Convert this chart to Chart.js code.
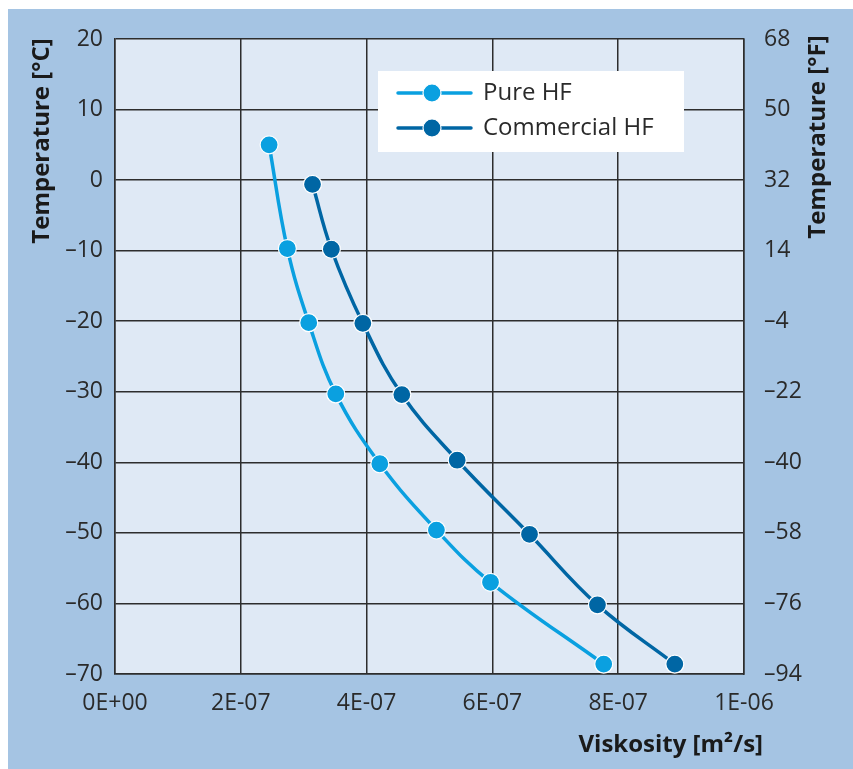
<!DOCTYPE html>
<html>
<head>
<meta charset="utf-8">
<script src="https://cdn.jsdelivr.net/npm/chart.js@4/dist/chart.umd.min.js"></script>
<style>
html,body{margin:0;padding:0;background:#fff;}
#wrap{position:relative;width:853px;height:769px;}
</style>
</head>
<body>
<div id="wrap"><canvas id="c" width="853" height="769"></canvas></div>
<script>
const seriesNames = ["Pure HF", "Commercial HF"];
const pureX = [2.45e-7, 2.74e-7, 3.08e-7, 3.51e-7, 4.21e-7, 5.11e-7, 5.97e-7, 7.77e-7];
const pureY = [5, -9.7, -20.2, -30.3, -40.2, -49.6, -57, -68.6];
const commX = [3.14e-7, 3.44e-7, 3.94e-7, 4.56e-7, 5.44e-7, 6.59e-7, 7.67e-7, 8.9e-7];
const commY = [-0.6, -9.8, -20.3, -30.4, -39.7, -50.2, -60.2, -68.6];
const xTicks = [0, 2e-7, 4e-7, 6e-7, 8e-7, 1e-6];
const xTickLabels = ["0E+00", "2E-07", "4E-07", "6E-07", "8E-07", "1E-06"];
const cTicks = [20, 10, 0, -10, -20, -30, -40, -50, -60, -70];
const fTicks = [68, 50, 32, 14, -4, -22, -40, -58, -76, -94];

const colors = ["#0aa0e0", "#0066a4"];
const fmt = v => (v < 0 ? "\u2013" + Math.abs(v) : String(v));

const bgPlugin = {
  id: "bg",
  beforeDraw(chart) {
    const ctx = chart.ctx, a = chart.chartArea;
    ctx.save();
    ctx.fillStyle = "#ffffff";
    ctx.fillRect(0, 0, chart.width, chart.height);
    ctx.fillStyle = "#a5c4e3";
    ctx.fillRect(8, 9, chart.width - 8, chart.height - 9);
    ctx.fillStyle = "#dfe9f5";
    ctx.fillRect(a.left, a.top, a.right - a.left, a.bottom - a.top);
    ctx.restore();
  },
  afterDraw(chart) {
    const ctx = chart.ctx;
    ctx.save();
    ctx.fillStyle = "#1a1a1a";
    ctx.font = "bold 24px 'Open Sans'";
    ctx.textBaseline = "middle";
    ctx.textAlign = "right";
    ctx.fillText("Viskosity [m\u00b2/s]", 763, 745);
    ctx.textAlign = "center";
    ctx.save();
    ctx.translate(42, 141);
    ctx.rotate(-Math.PI / 2);
    ctx.fillText("Temperature [\u00b0C]", 0, 0);
    ctx.restore();
    ctx.save();
    ctx.translate(818, 137);
    ctx.rotate(-Math.PI / 2);
    ctx.fillText("Temperature [\u00b0F]", 0, 0);
    ctx.restore();
    // legend
    ctx.fillStyle = "#ffffff";
    ctx.fillRect(378, 71, 306, 81);
    chart.data.datasets.forEach((ds, i) => {
      const y = 93 + i * 35;
      ctx.strokeStyle = ds.borderColor;
      ctx.lineWidth = 3.5;
      ctx.lineCap = "round";
      ctx.beginPath();
      ctx.moveTo(398, y);
      ctx.lineTo(471, y);
      ctx.stroke();
      ctx.beginPath();
      ctx.arc(432, y, 9, 0, Math.PI * 2);
      ctx.fillStyle = ds.backgroundColor;
      ctx.fill();
      ctx.lineWidth = 1.2;
      ctx.strokeStyle = "#ffffff";
      ctx.stroke();
      ctx.fillStyle = "#2a2a2a";
      ctx.font = "24px 'Open Sans'";
      ctx.textAlign = "left";
      ctx.fillText(ds.label, 483, y);
    });
    ctx.restore();
  }
};

const mk = (xs, ys) => xs.map((x, i) => ({ x: x, y: ys[i] }));
const tickFont = { family: "'Open Sans'", size: 23 };

new Chart(document.getElementById("c"), {
  type: "scatter",
  data: {
    datasets: [
      { label: seriesNames[0], data: mk(pureX, pureY), showLine: true, tension: 0.4,
        borderColor: colors[0], backgroundColor: colors[0], borderWidth: 3.5,
        pointRadius: 9, pointBorderColor: "#ffffff", pointBorderWidth: 1.2, pointHoverRadius: 9 },
      { label: seriesNames[1], data: mk(commX, commY), showLine: true, tension: 0.4,
        borderColor: colors[1], backgroundColor: colors[1], borderWidth: 3.5,
        pointRadius: 9, pointBorderColor: "#ffffff", pointBorderWidth: 1.2, pointHoverRadius: 9 }
    ]
  },
  options: {
    responsive: false,
    animation: false,
    devicePixelRatio: 1,
    layout: { padding: { top: 39, left: 0, right: 0, bottom: 0 } },
    plugins: { legend: { display: false }, tooltip: { enabled: false } },
    scales: {
      x: {
        type: "linear", min: 0, max: 1e-6,
        afterBuildTicks: s => { s.ticks = xTicks.map(v => ({ value: v })); },
        afterFit: s => { s.height = 95; },
        grid: { color: "#2d2d2d", lineWidth: 1.5, drawTicks: false },
        border: { color: "#2d2d2d", width: 1.5 },
        ticks: { padding: 16, color: "#2a2a2a", font: tickFont,
          maxRotation: 0, autoSkip: false,
          callback: (v) => { const i = xTicks.findIndex(t => Math.abs(t - v) < 1e-12); return i >= 0 ? xTickLabels[i] : ""; } }
      },
      y: {
        type: "linear", position: "left", min: -70, max: 20,
        afterBuildTicks: s => { s.ticks = cTicks.map(v => ({ value: v })); },
        afterFit: s => { s.width = 115; },
        grid: { color: "#2d2d2d", lineWidth: 1.5, drawTicks: false },
        border: { color: "#2d2d2d", width: 1.5 },
        ticks: { padding: 12, color: "#2a2a2a", font: tickFont, autoSkip: false,
          callback: v => fmt(v) }
      },
      y2: {
        type: "linear", position: "right", min: -94, max: 68,
        afterBuildTicks: s => { s.ticks = fTicks.map(v => ({ value: v })); },
        afterFit: s => { s.width = 109; },
        grid: { display: false, drawTicks: false },
        border: { color: "#2d2d2d", width: 1.5 },
        ticks: { padding: 20, color: "#2a2a2a", font: tickFont, autoSkip: false,
          callback: v => fmt(v) }
      }
    }
  },
  plugins: [bgPlugin]
});
</script>
</body>
</html>
